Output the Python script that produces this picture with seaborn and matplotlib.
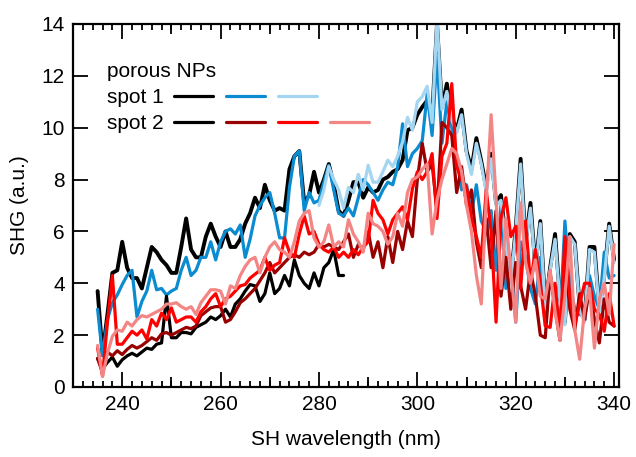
import matplotlib
matplotlib.use("Agg")
import matplotlib.pyplot as plt
import seaborn as sns
import pandas as pd
from matplotlib.lines import Line2D
from matplotlib.legend_handler import HandlerTuple
from matplotlib.ticker import MultipleLocator

sns.set_style("ticks")
plt.rcParams['font.family'] = ['Liberation Sans', 'DejaVu Sans']
plt.rcParams['text.color'] = 'black'
plt.rcParams['axes.labelcolor'] = 'black'

# ---- data -------------------------------------------------------------
wavelength = list(range(235, 341))          # SH wavelength grid, nm
wl_lightblue = list(range(280, 341))
wl_black2 = list(range(235, 286))

spot1_black = [3.7, 1.3, 2.8, 4.4, 4.5, 5.6, 4.6, 4.2, 4.2, 3.8,
               4.6, 5.4, 5.2, 4.9, 4.7, 4.4, 4.4, 5.4, 6.5, 5.3,
               5.0, 5.0, 5.8, 6.3, 5.8, 5.4, 6.0, 5.4, 5.4, 5.7,
               6.3, 6.7, 7.3, 6.9, 7.8, 7.2, 6.8, 6.9, 6.8, 8.4,
               8.9, 9.1, 7.1, 7.4, 8.3, 7.5, 8.0, 8.6, 7.8, 6.8,
               6.6, 7.2, 7.9, 7.9, 7.3, 7.7, 7.5, 7.6, 8.0, 8.1,
               8.3, 8.4, 8.75, 9.9, 10.0, 10.5, 10.8, 11.05, 10.4, 14.0,
               10.8, 11.7, 10.4, 9.9, 10.7, 9.1, 8.4, 9.6, 8.7, 7.7,
               9.0, 7.1, 7.4, 5.6, 4.1, 6.1, 8.8, 5.6, 7.1, 4.6,
               6.4, 3.1, 4.6, 5.9, 3.4, 2.5, 5.9, 5.6, 3.1, 2.6,
               5.4, 5.4, 3.0, 4.3, 6.3, 4.9]

spot1_blue = [3.0, 1.2, 2.6, 3.25, 3.55, 3.95, 4.3, 4.5, 2.7, 3.3,
              3.7, 4.5, 3.75, 3.8, 3.55, 3.7, 3.8, 4.5, 5.0, 4.3,
              4.5, 5.0, 5.0, 5.6, 4.9, 5.6, 6.0, 6.1, 5.9, 6.25,
              5.0, 5.7, 6.6, 7.0, 7.3, 7.5, 6.7, 5.75, 5.75, 7.7,
              8.9, 9.1, 6.8, 7.5, 7.1, 7.2, 7.9, 8.55, 7.6, 6.7,
              6.6, 6.9, 6.6, 7.3, 8.0, 7.8, 7.5, 7.2, 7.6, 7.9,
              7.8, 8.5, 10.15, 8.5, 9.0, 9.2, 9.5, 11.3, 9.7, 12.8,
              9.4, 11.0, 10.0, 8.8, 7.6, 7.8, 6.7, 7.8, 6.4, 6.0,
              6.8, 4.5, 7.0, 3.8, 5.0, 2.5, 5.6, 5.0, 3.8, 3.2,
              5.0, 2.6, 4.3, 3.5, 2.5, 6.4, 4.0, 3.0, 2.8, 2.7,
              4.3, 3.5, 3.0, 5.2, 4.2, 4.3]

spot1_lightblue = [7.0, 7.6, 8.5, 8.0, 7.6, 6.9, 7.7, 7.5, 8.2, 7.6,
                   8.55, 7.9, 7.9, 8.3, 8.75, 8.5, 8.9, 9.45, 10.4, 9.9,
                   11.0, 11.2, 11.6, 10.2, 14.2, 10.7, 11.4, 10.3, 9.8, 10.5,
                   9.0, 8.2, 9.4, 8.6, 7.5, 8.8, 7.0, 7.2, 5.5, 4.0,
                   6.0, 8.6, 5.5, 6.9, 4.5, 6.3, 3.0, 4.5, 5.7, 3.3,
                   2.4, 5.8, 5.5, 3.0, 2.5, 5.3, 5.2, 2.9, 4.2, 6.2, 4.8]

spot2_black = [1.1, 0.7, 0.95, 1.15, 0.8, 1.05, 1.2, 1.3, 1.2, 1.35,
               1.5, 1.45, 1.65, 1.7, 3.5, 1.9, 1.9, 2.1, 2.1, 2.05,
               2.3, 2.4, 2.5, 2.7, 2.6, 2.75, 3.0, 2.7, 3.2, 3.4,
               3.7, 3.95, 3.9, 3.3, 3.6, 4.4, 3.6, 3.8, 4.3, 3.9,
               4.9, 4.3, 4.0, 3.8, 4.4, 3.9, 4.6, 4.8, 5.3, 4.3, 4.3]

spot2_darkred = [1.1, 0.55, 1.35, 1.2, 1.4, 1.25, 1.45, 1.6, 1.5, 1.6,
                 1.75, 1.9, 1.8, 2.05, 2.1, 2.0, 2.1, 2.2, 2.3, 2.25,
                 2.35, 2.75, 2.9, 3.05, 3.1, 3.1, 2.5, 2.6, 2.9, 3.25,
                 3.4, 3.6, 3.8, 4.1, 4.4, 4.8, 4.4, 4.6, 4.8, 5.0,
                 5.1, 5.0, 5.2, 5.1, 5.2, 5.5, 5.4, 5.5, 5.4, 5.3,
                 5.6, 5.9, 5.0, 5.5, 5.3, 6.0, 5.0, 5.6, 4.6, 5.8,
                 4.8, 6.0, 5.3, 6.4, 5.8, 8.0, 9.4, 8.3, 8.6, 6.8,
                 10.2, 10.0, 9.7, 7.5, 8.5, 7.0, 7.6, 5.6, 4.6, 6.5,
                 4.6, 6.8, 3.5, 5.0, 3.0, 4.8, 3.9, 3.0, 4.5, 3.5,
                 2.0, 1.9, 4.4, 3.0, 1.8, 5.0, 3.0, 2.2, 3.6, 2.6,
                 3.8, 2.6, 1.7, 3.4, 2.5, 2.35]

spot2_red = [1.5, 0.43, 2.5, 4.3, 1.65, 1.65, 1.9, 2.15, 2.0, 2.2,
             1.85, 2.6, 2.35, 2.85, 2.6, 3.05, 2.5, 2.6, 2.7, 2.7,
             2.5, 2.9, 3.1, 3.4, 3.6, 3.1, 3.4, 3.5, 3.7, 3.9,
             3.95, 4.2, 4.35, 4.5, 5.0, 4.5, 4.7, 4.8, 5.75, 5.2,
             5.0, 5.9, 6.6, 5.9, 6.0, 5.5, 5.3, 5.2, 5.4, 5.0,
             5.2, 5.0, 5.3, 5.1, 5.4, 5.6, 7.2, 6.7, 6.45, 5.9,
             6.45, 6.7, 6.95, 6.45, 7.65, 8.3, 8.0, 8.3, 9.0, 6.5,
             8.9, 9.4, 11.7, 8.5, 8.0, 7.7, 6.5, 5.8, 5.0, 7.6,
             6.0, 2.5, 6.5, 7.3, 5.8, 6.2, 3.8, 6.4, 4.0, 5.3,
             4.0, 2.35, 2.3, 4.0, 1.85, 5.8, 3.5, 2.4, 3.2, 4.0,
             4.0, 3.0, 2.8, 2.15, 3.6, 2.35]

spot2_pink = [1.6, 0.4, 1.3, 1.95, 2.2, 2.15, 2.5, 2.35, 2.6, 2.75,
              2.7, 2.8, 2.9, 3.0, 3.2, 3.2, 3.25, 3.1, 3.0, 3.1,
              2.8, 3.25, 3.5, 3.75, 3.75, 3.7, 3.2, 3.9, 3.8, 4.3,
              4.65, 4.9, 5.0, 4.4, 5.0, 5.4, 5.6, 5.3, 5.2, 5.0,
              5.6, 6.4, 6.7, 6.8, 5.75, 5.4, 5.6, 6.25, 5.4, 5.6,
              5.4, 6.45, 5.9, 5.6, 5.2, 6.7, 6.3, 6.2, 6.0, 5.5,
              5.8, 6.7, 6.2, 7.5, 8.0, 8.1, 8.4, 8.6, 5.9, 7.2,
              8.0, 8.6, 9.2, 9.0, 8.3, 7.0, 6.0, 4.3, 3.2, 7.2,
              10.5, 7.3, 3.8, 6.5, 4.5, 2.5, 7.1, 4.8, 4.0, 4.9,
              3.5, 3.4, 4.5, 2.9, 1.8, 3.5, 5.8, 2.2, 1.07, 3.0,
              3.8, 1.5, 3.4, 4.0, 2.8, 5.5]

c_black = "#000000"
c_blue = "#0b8bd0"
c_lightblue = "#a5d6f1"
c_darkred = "#990000"
c_red = "#ff0000"
c_pink = "#f48585"

FS = 15

# ---- figure -----------------------------------------------------------
fig = plt.figure(figsize=(6.36, 4.57), dpi=100)
ax = fig.add_axes([0.1148, 0.1532, 0.8585, 0.7943])

LW = 2.3
series = [
    (wavelength, spot1_black, c_black, 2.8),
    (wavelength, spot1_blue, c_blue, LW),
    (wl_lightblue, spot1_lightblue, c_lightblue, LW),
    (wl_black2, spot2_black, c_black, LW),
    (wavelength, spot2_darkred, c_darkred, LW),
    (wavelength, spot2_red, c_red, LW),
    (wavelength, spot2_pink, c_pink, LW),
]
for xs, ys, col, lw in series:
    df = pd.DataFrame({"wl": xs, "shg": ys})
    sns.lineplot(data=df, x="wl", y="shg", color=col, linewidth=lw, ax=ax,
                 estimator=None)

ax.set_xlim(230, 341)
ax.set_ylim(0, 14)
ax.xaxis.set_major_locator(MultipleLocator(20))
ax.xaxis.set_minor_locator(MultipleLocator(2))
ax.yaxis.set_major_locator(MultipleLocator(2))
ax.tick_params(which='both', direction='in', top=True, right=True,
               width=1.3, color='black', labelsize=FS, labelcolor='black')
ax.tick_params(which='major', length=10.5, pad=6)
ax.tick_params(axis='x', which='minor', length=4.5)
ax.tick_params(axis='y', which='minor', left=False, right=False)
for s in ax.spines.values():
    s.set_linewidth(1.6)
    s.set_color('black')

mid_ticks = [250, 270, 290, 310, 330]
for loc in ('bottom', 'top'):
    sec = ax.secondary_xaxis(loc)
    sec.set_xticks(mid_ticks)
    sec.set_xticklabels([])
    sec.tick_params(direction='in', length=7, width=1.3, color='black')
    for s in sec.spines.values():
        s.set_visible(False)

ax.set_xlabel("SH wavelength (nm)", fontsize=FS, labelpad=11, color='black')
ax.set_ylabel("SHG (a.u.)", fontsize=FS, labelpad=9, color='black')

# ---- legend -----------------------------------------------------------
def h(col, lw=LW):
    return Line2D([], [], color=col, linewidth=lw)

handles = [(h(c_black), h(c_blue), h(c_lightblue)),
           (h(c_black), h(c_darkred), h(c_red), h(c_pink))]
labels = ["spot 1", "spot 2"]
leg = ax.legend(handles, labels,
                handler_map={tuple: HandlerTuple(ndivide=4, pad=0.63)},
                title="porous NPs", markerfirst=False, frameon=False,
                loc='upper left', bbox_to_anchor=(0.062, 0.895),
                handlelength=9.4, handletextpad=0.48, labelspacing=0.33,
                borderpad=0, borderaxespad=0, fontsize=FS, title_fontsize=FS,
                alignment='left')
for t in leg.get_texts():
    t.set_color('black')
leg.get_title().set_color('black')

fig.savefig("out.png", dpi=100)
